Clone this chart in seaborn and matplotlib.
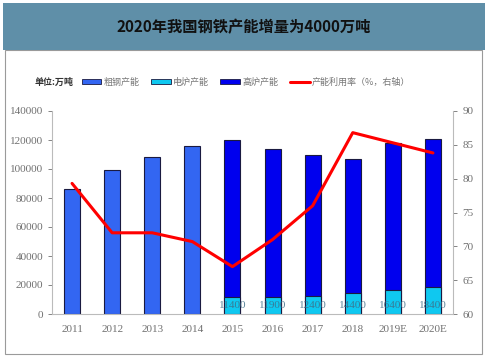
import numpy as np
import pandas as pd
import matplotlib
matplotlib.use('Agg')
import matplotlib.pyplot as plt
from matplotlib.patches import Rectangle, Patch
from matplotlib.lines import Line2D
import seaborn as sns

sns.set_style('white')
plt.rcParams['font.family'] = ['Noto Sans CJK SC', 'DejaVu Sans']

# 数据（单位：万吨，利用率 %）
years = ['2011', '2012', '2013', '2014', '2015', '2016', '2017', '2018', '2019E', '2020E']
crude = [86000, 99500, 108500, 116000, np.nan, np.nan, np.nan, np.nan, np.nan, np.nan]
ef = [np.nan, np.nan, np.nan, np.nan, 11400, 11900, 12400, 14400, 16400, 18400]
blast = [np.nan, np.nan, np.nan, np.nan, 108600, 102100, 97600, 92600, 101600, 102600]
util = [79.3, 72.0, 72.0, 70.7, 67.0, 71.0, 76.0, 86.8, 85.3, 83.8]

df = pd.DataFrame({'year': years, 'crude': crude, 'ef': ef, 'blast': blast, 'util': util})
df['total'] = df['ef'] + df['blast']

c_crude = '#3366f2'
c_ef = '#0fc8f0'
c_blast = '#0000ee'
c_line = '#ff0000'
grey = '#707070'
serif = 'Liberation Serif'

fig = plt.figure(figsize=(4.88, 3.6), dpi=100)

# 标题栏和外框
fig.patches.append(Rectangle((5/488, 1-354/360), 477/488, 304/360, transform=fig.transFigure,
                             facecolor='white', edgecolor='#9a9a9a', lw=0.8, zorder=-10))
fig.patches.append(Rectangle((3/488, 1-50/360), 482/488, 47/360, transform=fig.transFigure,
                             facecolor='#5f8fa8', edgecolor='none', zorder=-5))
fig.text(0.5, 1-27/360, '2020年我国钢铁产能增量为4000万吨', ha='center', va='center',
         fontsize=11, fontweight='bold', color='#111111')

ax = fig.add_axes([52/488, 1-314/360, 401/488, 203/360])
ax.patch.set_alpha(0)

bar_kw = dict(order=years, width=0.4, saturation=1, edgecolor='#1a1a40', linewidth=0.8, ax=ax)
sns.barplot(data=df, x='year', y='crude', color=c_crude, **bar_kw)
sns.barplot(data=df, x='year', y='total', color=c_blast, **bar_kw)
sns.barplot(data=df, x='year', y='ef', color=c_ef, **bar_kw)

for i, v in enumerate(ef):
    if not np.isnan(v):
        ax.text(i, 6200, f'{int(v)}', ha='center', va='center', fontsize=8,
                family=serif, color='#3d6f88', alpha=0.85)

ax.set_xlim(-0.5, 9.5)
ax.set_ylim(0, 140000)
ax.set_yticks(range(0, 140001, 20000))
ax.set_xlabel('')
ax.set_ylabel('')

ax2 = ax.twinx()
sns.lineplot(x=np.arange(len(years)), y=util, color=c_line, lw=2.2, ax=ax2)
ax2.set_ylim(60, 90)
ax2.set_yticks(range(60, 91, 5))

for a in (ax, ax2):
    for s in a.spines.values():
        s.set_visible(False)
    a.tick_params(labelsize=8, colors=grey, length=3, width=0.6)
    for lab in a.get_xticklabels() + a.get_yticklabels():
        lab.set_family(serif)
ax.spines['left'].set_visible(True)
ax.spines['bottom'].set_visible(True)
ax2.spines['right'].set_visible(True)
for s in (ax.spines['left'], ax.spines['bottom'], ax2.spines['right']):
    s.set_color('#bbbbbb')
    s.set_linewidth(0.8)
ax.tick_params(axis='x', length=0, pad=8)
ax2.tick_params(axis='y', pad=4)

# 图例
fig.text(35/488, 1-82/360, '单位:万吨', fontsize=6.5, fontweight='bold', color='#333333', va='center')
handles = [Patch(facecolor=c_crude, edgecolor='#1a1a40', lw=0.6, label='粗钢产能'),
           Patch(facecolor=c_ef, edgecolor='#1a1a40', lw=0.6, label='电炉产能'),
           Patch(facecolor=c_blast, edgecolor='#1a1a40', lw=0.6, label='高炉产能'),
           Line2D([0], [0], color=c_line, lw=2.2, label='产能利用率（%，右轴）')]
fig.legend(handles=handles, loc='center left', bbox_to_anchor=(78/488, 1-82/360), ncol=4,
           frameon=False, fontsize=6.5, labelcolor='#777777', handlelength=2.2,
           handleheight=0.6, handletextpad=0.2, columnspacing=1.3, borderaxespad=0)

fig.savefig('out.png', dpi=100)
